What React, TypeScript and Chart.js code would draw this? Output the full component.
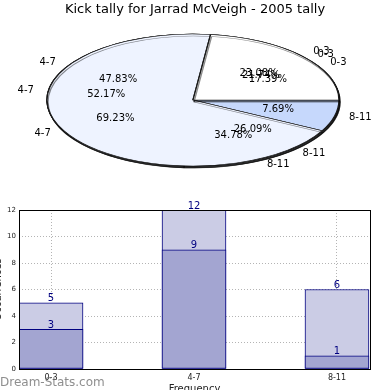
import React, { useEffect, useRef } from "react";
import { Chart, registerables } from "chart.js";
Chart.register(...registerables);

// ---- data ----
const categories = ["0-3", "4-7", "8-11"];
const innerCounts = [3, 9, 1];
const outerCounts = [5, 12, 6];
const thirdCounts = [4, 11, 8];
const yMin = 0;
const yMax = 12;
const yStep = 2;
const titleText = "Kick tally for Jarrad McVeigh - 2005 tally";
const xTitle = "Frequency";
const yTitle = "Occurrences";
const watermark = "Dream-Stats.com";

// ---- style ----
const sliceColors = ["#ffffff", "#eef3ff", "#c6d8fc"];
const PIE_CX = 193;
const PIE_CY = 100;
const PIE_R = 146;
const PIE_SY = 0.452;
const FONT = "'DejaVu Sans', sans-serif";

const pieSeries = [innerCounts, outerCounts, thirdCounts];

const piePlugin = {
  id: "ellipsePie",
  afterDatasetUpdate(chart: any, args: any) {
    args.meta.data.forEach((a: any) => {
      a.innerRadius = 0;
      a.outerRadius = PIE_R;
    });
  },
  beforeDatasetsDraw(chart: any) {
    const ctx = chart.ctx;
    const ca = chart.chartArea;
    const cx0 = (ca.left + ca.right) / 2;
    const cy0 = (ca.top + ca.bottom) / 2;
    ctx.save();
    ctx.translate(PIE_CX, PIE_CY);
    ctx.scale(1, PIE_SY);
    ctx.translate(-cx0, -cy0);
    ctx.shadowColor = "rgba(0,0,0,0.45)";
    ctx.shadowOffsetX = 1;
    ctx.shadowOffsetY = 2;
    ctx.shadowBlur = 0;
  },
  afterDatasetsDraw(chart: any) {
    const ctx = chart.ctx;
    ctx.restore();
    ctx.save();
    ctx.fillStyle = "#000";
    ctx.font = `10px ${FONT}`;
    ctx.textBaseline = "middle";
    const labels = chart.data.labels;
    chart.data.datasets.forEach((ds: any, di: number) => {
      const meta = chart.getDatasetMeta(di);
      const total = ds.data.reduce((s: number, v: number) => s + v, 0);
      meta.data.forEach((arc: any, i: number) => {
        const mid = (arc.startAngle + arc.endAngle) / 2;
        const c = Math.cos(mid);
        const s = Math.sin(mid);
        const rx = arc.outerRadius;
        const ry = arc.outerRadius * PIE_SY;
        ctx.textAlign = c > 0 ? "left" : "right";
        ctx.fillText(labels[i], PIE_CX + c * rx * 1.1, PIE_CY + s * ry * 1.1);
        ctx.textAlign = "center";
        const pct = ((ds.data[i] / total) * 100).toFixed(2) + "%";
        ctx.fillText(pct, PIE_CX + c * rx * 0.6, PIE_CY + s * ry * 0.6);
      });
    });
    ctx.font = `13px ${FONT}`;
    ctx.textAlign = "center";
    ctx.fillText(titleText, 195, 10);
    ctx.restore();
  },
};

const barPlugin = {
  id: "barExtras",
  afterDatasetsDraw(chart: any) {
    const ctx = chart.ctx;
    ctx.save();
    ctx.fillStyle = "#000080";
    ctx.font = `10px ${FONT}`;
    ctx.textAlign = "center";
    ctx.textBaseline = "bottom";
    chart.data.datasets.forEach((ds: any, di: number) => {
      const meta = chart.getDatasetMeta(di);
      meta.data.forEach((bar: any, i: number) => {
        ctx.fillText(String(ds.data[i].y), bar.x, bar.y + 1);
      });
    });
    ctx.restore();
  },
  afterDraw(chart: any) {
    const ctx = chart.ctx;
    const ca = chart.chartArea;
    ctx.save();
    ctx.strokeStyle = "#000";
    ctx.lineWidth = 1;
    ctx.strokeRect(Math.round(ca.left) + 0.5, Math.round(ca.top) + 0.5, Math.round(ca.right - ca.left), Math.round(ca.bottom - ca.top));
    // axis titles
    ctx.fillStyle = "#222";
    ctx.font = `10px ${FONT}`;
    ctx.textAlign = "center";
    ctx.textBaseline = "top";
    ctx.fillText(xTitle, (ca.left + ca.right) / 2, 189);
    ctx.save();
    ctx.translate(-2, (ca.top + ca.bottom) / 2);
    ctx.rotate(-Math.PI / 2);
    ctx.textBaseline = "middle";
    ctx.fillText(yTitle, 0, 0);
    ctx.restore();
    // watermark
    ctx.fillStyle = "rgba(110,110,110,0.78)";
    ctx.font = `12px ${FONT}`;
    ctx.textAlign = "left";
    ctx.textBaseline = "alphabetic";
    ctx.fillText(watermark, 0, 191);
    ctx.restore();
  },
};

export default function App() {
  const pieRef = useRef<HTMLCanvasElement>(null);
  const barRef = useRef<HTMLCanvasElement>(null);

  useEffect(() => {
    const pie = new Chart(pieRef.current!, {
      type: "pie",
      data: {
        labels: [...categories].reverse(),
        datasets: pieSeries.map((s) => ({
          data: [...s].reverse(),
          backgroundColor: [...sliceColors].reverse(),
          borderColor: "#1a1a1a",
          borderWidth: 1.4,
          clip: false,
        })),
      },
      options: {
        animation: false,
        responsive: false,
        events: [],
        rotation: 90,
        layout: { padding: { left: 47, right: 48, top: 50, bottom: 50 } },
        plugins: { legend: { display: false }, tooltip: { enabled: false } },
      },
      plugins: [piePlugin],
    } as any);

    const gridOpts = { color: "#b4b4b4", lineWidth: 1, drawTicks: false, offset: false };
    const bar = new Chart(barRef.current!, {
      type: "bar",
      data: {
        datasets: [
          {
            data: innerCounts.map((v, i) => ({ x: i, y: v })),
            backgroundColor: "#a3a5d1",
            borderColor: "#000080",
            borderWidth: 1,
            borderSkipped: false,
            barThickness: 64,
          },
          {
            data: outerCounts.map((v, i) => ({ x: i, y: v })),
            backgroundColor: "#cbcce5",
            borderColor: "#000080",
            borderWidth: 1,
            borderSkipped: false,
            barThickness: 64,
          },
        ],
      },
      options: {
        animation: false,
        responsive: false,
        events: [],
        layout: { padding: { left: 0, right: 20, top: 15, bottom: 0 } },
        scales: {
          x: {
            type: "linear",
            stacked: true,
            offset: false,
            min: -0.224,
            max: 2.231,
            z: 1,
            afterBuildTicks: (s: any) => {
              s.ticks = categories.map((_, i) => ({ value: i }));
            },
            afterFit: (s: any) => {
              s.height = 21;
            },
            ticks: {
              callback: (v: any) => categories[v] ?? "",
              font: { size: 8, family: FONT },
              color: "#222",
              padding: 4,
              autoSkip: false,
              maxRotation: 0,
            },
            grid: gridOpts,
            border: { display: false, dash: [1, 2] },
          },
          y: {
            stacked: false,
            min: yMin,
            max: yMax,
            z: 1,
            afterFit: (s: any) => {
              s.width = 19;
            },
            ticks: { stepSize: yStep, font: { size: 7, family: FONT }, color: "#222", padding: 3 },
            grid: gridOpts,
            border: { display: false, dash: [1, 2] },
          },
        },
        plugins: { legend: { display: false }, tooltip: { enabled: false } },
      },
      plugins: [barPlugin],
    } as any);

    return () => {
      pie.destroy();
      bar.destroy();
    };
  }, []);

  return (
    <div style={{ position: "absolute", left: 0, top: 0, width: 390, height: 390, background: "#fff", overflow: "hidden" }}>
      <canvas ref={pieRef} width={390} height={390} style={{ position: "absolute", left: 0, top: 0, width: 390, height: 390 }} />
      <canvas ref={barRef} width={390} height={195} style={{ position: "absolute", left: 0, top: 195, width: 390, height: 195 }} />
    </div>
  );
}
